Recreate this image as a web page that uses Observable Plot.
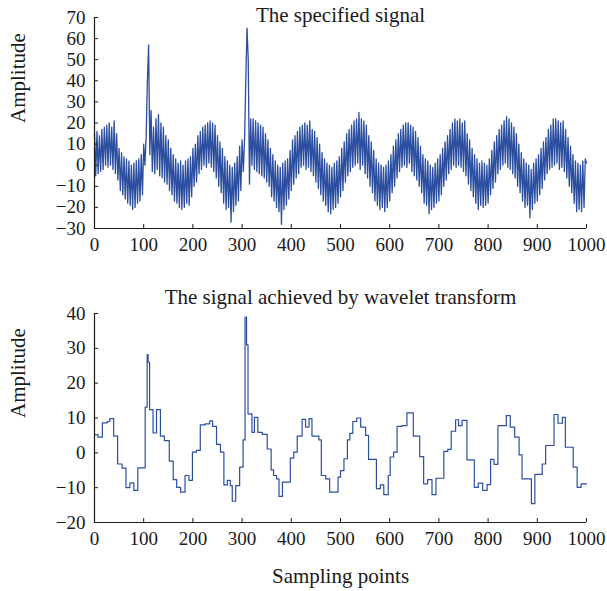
<!DOCTYPE html>
<html><head><meta charset="utf-8">
<script src="https://cdn.jsdelivr.net/npm/d3@7"></script>
<script src="https://cdn.jsdelivr.net/npm/@observablehq/plot@0.6"></script>
<style>
body{margin:0;background:#fff;}
#chart{position:relative;width:607px;height:591px;overflow:hidden;}
.panel{position:absolute;left:0;}
</style>
</head><body><div id="chart"></div>
<script>
// Top panel: the specified signal, read every 2.5 sampling points from the picture
const topSpacing = 2.5;
const topSignal = [
 15,-5,16,-4,14,-3,17,-2,18,0,19,-1,20,0,18,-2,21,-4,15,-7,
 8,-12,6,-14,4,-16,3,-18,2,-19,0,-21,1,-20,2,-18,3,-17,5,-14,
 10,0,14,40,57,5,26,-3,18,-4,22,-2,24,-5,20,-6,18,-8,14,-9,
 12,-12,8,-14,5,-17,3,-18,1,-20,2,-21,0,-20,2,-18,3,-19,4,-15,
 8,-10,10,-8,14,-4,16,-2,18,0,19,-1,20,1,21,-1,20,-3,19,-6,
 14,-10,11,-13,8,-18,4,-21,2,-20,0,-27,-1,-22,1,-19,4,-17,9,-12,
 12,-3,12,40,65,50,-9,22,0,22,-2,21,-3,20,-4,19,-5,18,-6,15,
 -8,12,-10,8,-15,5,-17,2,-20,0,-22,-1,-28,1,-21,2,-19,3,-16,7,
 -12,12,-9,14,-6,16,-4,18,-1,19,0,20,-2,19,-1,21,-3,17,-5,16,
 -8,13,-11,10,-14,6,-17,3,-19,1,-22,0,-23,-1,-21,1,-20,2,-18,4,
 -15,8,-12,11,-8,15,-5,17,-3,19,-1,21,0,22,1,25,-2,22,0,21,
 -4,19,-6,14,-10,11,-13,7,-17,3,-19,1,-21,0,-20,-1,-22,0,-20,2,
 -17,5,-13,9,-10,12,-6,15,-3,17,-1,19,0,20,-1,20,1,19,-3,18,
 -5,16,-7,13,-10,9,-13,5,-18,3,-19,2,-23,0,-21,-1,-20,1,-18,3,
 -17,5,-14,8,-10,11,-7,14,-4,17,-2,20,0,22,-1,21,0,22,-1,20,
 -3,21,-5,15,-9,12,-12,8,-15,5,-18,3,-21,1,-19,2,-20,1,-19,0,
 -18,3,-14,7,-11,11,-8,14,-4,17,-2,19,0,21,1,23,-1,22,-2,20,
 -4,18,-6,15,-10,10,-13,6,-17,3,-20,1,-19,0,-25,-2,-21,1,-18,3,
 -17,5,-14,8,-11,11,-7,13,-4,17,-2,19,-1,22,0,22,1,21,-2,20,
 -1,21,-3,17,-6,13,-10,9,-13,5,-18,2,-22,1,-21,0,-22,2,-20,3,
 1
];
// Bottom panel: wavelet-reconstructed step signal (sample index, amplitude)
const waveX = [0,7,16,26,31,39,47,56,64,72,80,88,103,107,109,112,119,126,134,142,152,160,167,175,184,192,199,207,215,225,234,240,248,256,263,270,276,280,287,295,302,306,309,312,320,325,332,341,351,359,364,370,375,382,398,405,412,422,429,436,442,456,461,470,478,495,500,507,514,519,525,533,541,551,557,573,581,588,597,601,608,615,625,635,648,661,669,677,686,694,710,718,725,734,740,747,757,772,780,789,798,805,812,820,837,845,854,863,869,888,895,910,917,934,942,951,957,973,981,989,1000];
const waveY = [5.2,4.5,8.6,9.0,9.8,4.8,-3.2,-4.4,-10,-8.6,-10.8,-4.3,13.1,28.2,26,12.4,5.7,12.4,4.8,3.5,-2.4,-7.7,-9.9,-11.3,-6.5,-7.9,0.2,0.7,8.0,8.3,9.2,7.6,2.4,0.2,-9.2,-7.9,-9.4,-13.9,-9.4,-4.1,3.7,39,31,11.2,5.9,10.2,5.9,5.3,1.1,-4.9,-6.5,-7.5,-12.5,-8.4,-1.5,0.2,4.8,9.6,7.4,9.8,4.8,3.7,-6.5,-7.5,-11.3,-7.0,-5.1,-1.7,3.7,5.6,9.0,10.0,7.4,5.0,-1.9,-10.3,-9.2,-12.0,-6.5,-1.2,0.2,7.6,7.8,11.5,4.8,-1.1,-8.9,-7.7,-12.0,-7.3,0.4,1.0,6.2,9.5,7.8,9.3,-2.0,-9.9,-8.7,-10.8,-9.1,-1.9,-3.3,7.8,10.7,7.4,4.5,-0.6,-7.5,-14.6,-6.2,-3.2,2.1,11.0,8.5,10.2,1.6,-4.1,-9.9,-8.9,-8.9];

const xTicks = [0,100,200,300,400,500,600,700,800,900,1000];
const topYTicks = [70,60,50,40,30,20,10,0,-10,-20,-30];
const bottomYTicks = [40,30,20,10,0,-10,-20];
const topTitle = "The specified signal";
const bottomTitle = "The signal achieved by wavelet transform";
const yLabel = "Amplitude";
const xLabel = "Sampling points";

const FONT = "'Liberation Serif','Times New Roman',serif";
const BLUE = "#2b4ea0";
const INK = "#1a1a1a";

const topData = topSignal.map((v, i) => ({x: i * topSpacing, y: v}));
const waveData = waveX.map((x, i) => ({x, y: waveY[i]}));

const chart = document.getElementById("chart");

function place(svg, top) {
  const d = document.createElement("div");
  d.className = "panel";
  d.style.top = top + "px";
  d.appendChild(svg);
  chart.appendChild(d);
}

const topPlot = Plot.plot({
  width: 607, height: 260,
  marginLeft: 94, marginRight: 21, marginTop: 17, marginBottom: 32,
  style: {fontFamily: FONT, fontSize: "19px", color: INK, background: "transparent", overflow: "visible"},
  x: {domain: [0, 1000]},
  y: {domain: [-30, 70]},
  marks: [
    Plot.line(topData, {x: "x", y: "y", stroke: BLUE, strokeWidth: 1.3}),
    Plot.ruleX([0], {stroke: INK, strokeWidth: 1.2}),
    Plot.ruleY([-30], {stroke: INK, strokeWidth: 1.2}),
    Plot.axisX(xTicks, {tickSize: -4, tickPadding: 13, label: null, tickFormat: d => String(d)}),
    Plot.axisY(topYTicks, {tickSize: -4, tickPadding: 13, label: null}),
    Plot.text([topTitle], {frameAnchor: "top", dy: -2, lineAnchor: "middle", fontSize: 21, fill: INK}),
    Plot.text([yLabel], {frameAnchor: "left", dx: -76, rotate: -90, fontSize: 21, fill: INK})
  ]
});
place(topPlot, 0);

const bottomPlot = Plot.plot({
  width: 607, height: 311,
  marginLeft: 94, marginRight: 21, marginTop: 33, marginBottom: 69,
  style: {fontFamily: FONT, fontSize: "19px", color: INK, background: "transparent", overflow: "visible"},
  x: {domain: [0, 1000]},
  y: {domain: [-20, 40]},
  marks: [
    Plot.line(waveData, {x: "x", y: "y", curve: "step-after", stroke: BLUE, strokeWidth: 1.2}),
    Plot.ruleX([0], {stroke: INK, strokeWidth: 1.2}),
    Plot.ruleY([-20], {stroke: INK, strokeWidth: 1.2}),
    Plot.axisX(xTicks, {tickSize: -4, tickPadding: 13, label: null, tickFormat: d => String(d)}),
    Plot.axisY(bottomYTicks, {tickSize: -4, tickPadding: 13, label: null}),
    Plot.text([bottomTitle], {frameAnchor: "top", dy: -16, lineAnchor: "middle", fontSize: 21, fill: INK}),
    Plot.text([yLabel], {frameAnchor: "left", dx: -76, rotate: -90, fontSize: 21, fill: INK}),
    Plot.text([xLabel], {frameAnchor: "bottom", dy: 54, lineAnchor: "middle", fontSize: 21, fill: INK})
  ]
});
place(bottomPlot, 280);
</script>
</body></html>
